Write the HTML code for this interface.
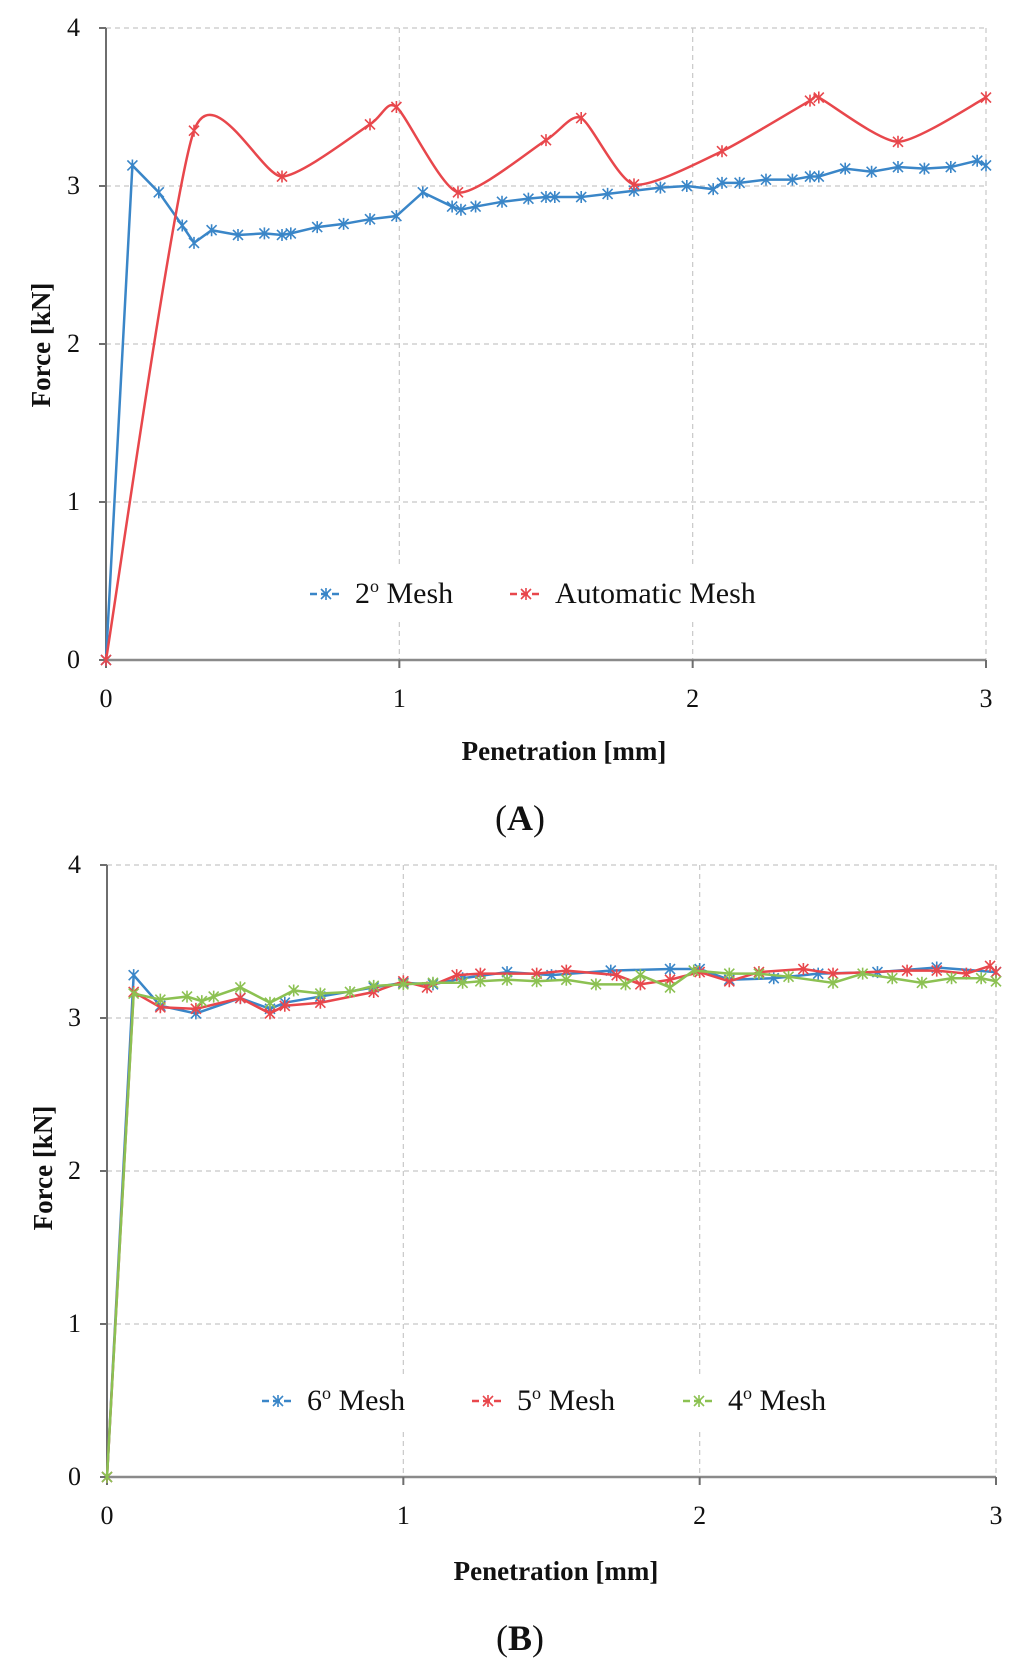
<!DOCTYPE html>
<html><head><meta charset="utf-8"><style>
html,body{margin:0;padding:0;background:#fff;}
svg{display:block;font-family:"Liberation Serif",serif;}
</style></head><body>
<svg id="fig" width="1024" height="1666" viewBox="0 0 1024 1666"></svg>
<script>
// Chart A data
const aBlueX=[0,0.09,0.18,0.26,0.3,0.36,0.45,0.54,0.6,0.63,0.72,0.81,0.9,0.99,1.08,1.18,1.21,1.26,1.35,1.44,1.5,1.53,1.62,1.71,1.8,1.89,1.98,2.07,2.1,2.16,2.25,2.34,2.4,2.43,2.52,2.61,2.7,2.79,2.88,2.97,3.0];
const aBlueY=[0,3.13,2.96,2.75,2.64,2.72,2.69,2.7,2.69,2.7,2.74,2.76,2.79,2.81,2.96,2.87,2.85,2.87,2.9,2.92,2.93,2.93,2.93,2.95,2.97,2.99,3.0,2.98,3.02,3.02,3.04,3.04,3.06,3.06,3.11,3.09,3.12,3.11,3.12,3.16,3.13];
const aRedX=[0,0.3,0.6,0.9,0.99,1.2,1.5,1.62,1.8,2.1,2.4,2.43,2.7,3.0];
const aRedY=[0,3.35,3.06,3.39,3.5,2.96,3.29,3.43,3.01,3.22,3.54,3.56,3.28,3.56];
// Chart B data
const b6X=[0,0.09,0.18,0.3,0.45,0.55,0.6,0.72,0.9,1.0,1.1,1.2,1.35,1.5,1.7,1.9,2.0,2.1,2.25,2.4,2.6,2.8,3.0];
const b6Y=[0,3.28,3.08,3.03,3.13,3.06,3.1,3.14,3.2,3.23,3.22,3.26,3.3,3.28,3.31,3.32,3.32,3.25,3.26,3.29,3.3,3.33,3.3];
const b5X=[0,0.09,0.18,0.3,0.45,0.55,0.6,0.72,0.9,1.0,1.08,1.18,1.26,1.45,1.55,1.72,1.8,1.9,2.0,2.1,2.2,2.35,2.45,2.7,2.8,2.9,2.98,3.0];
const b5Y=[0,3.17,3.07,3.06,3.13,3.03,3.08,3.1,3.17,3.24,3.2,3.28,3.29,3.29,3.31,3.28,3.22,3.25,3.3,3.24,3.3,3.32,3.29,3.31,3.31,3.29,3.34,3.3];
const b4X=[0,0.09,0.18,0.27,0.32,0.36,0.45,0.55,0.63,0.72,0.82,0.9,1.0,1.1,1.2,1.26,1.35,1.45,1.55,1.65,1.75,1.8,1.9,1.98,2.1,2.2,2.3,2.45,2.55,2.65,2.75,2.85,2.95,3.0];
const b4Y=[0,3.16,3.12,3.14,3.11,3.14,3.2,3.1,3.18,3.16,3.17,3.21,3.22,3.23,3.23,3.24,3.25,3.24,3.25,3.22,3.22,3.28,3.2,3.31,3.29,3.29,3.27,3.23,3.29,3.26,3.23,3.26,3.26,3.24];
const xTicks=[0,1,2,3];
const yTicks=[0,1,2,3,4];

const NS="http://www.w3.org/2000/svg";
const svg=document.getElementById('fig');
function mk(tag,attrs,parent,text){const e=document.createElementNS(NS,tag);for(const k in attrs)e.setAttribute(k,attrs[k]);if(text!==undefined)e.textContent=text;(parent||svg).appendChild(e);return e;}

function chart(cfg){
  const g=mk('g',{});
  
  
  const sx=v=>cfg.x0+(cfg.x1-cfg.x0)*v/3;
  const sy=v=>cfg.y0-(cfg.y0-cfg.y1)*v/4;
  yTicks.forEach(t=>{if(t>0){const l=mk('line',{x1:cfg.x0,x2:cfg.x1,y1:sy(t),y2:sy(t),stroke:'#c8c8c8','stroke-width':1.2,'stroke-dasharray':'5,4'},g);}});
  xTicks.forEach(t=>{if(t>0){const l=mk('line',{x1:sx(t),x2:sx(t),y1:cfg.y1,y2:cfg.y0,stroke:'#c8c8c8','stroke-width':1.2,'stroke-dasharray':'5,4'},g);}});
  const ya=mk('line',{x1:cfg.x0,x2:cfg.x0,y1:cfg.y1,y2:cfg.y0,stroke:'#6e6e6e','stroke-width':2},g);
  
  const xa=mk('line',{x1:cfg.x0,x2:cfg.x1,y1:cfg.y0,y2:cfg.y0,stroke:'#8a8a8a','stroke-width':2.5},g);
  
  yTicks.forEach(t=>{
    mk('line',{x1:cfg.x0-7,x2:cfg.x0,y1:sy(t),y2:sy(t),stroke:'#6e6e6e','stroke-width':2},g);
    const tx=mk('text',{x:cfg.x0-26,y:sy(t)+8,'text-anchor':'end','font-size':26,fill:'#111'},g,String(t));
    
  });
  xTicks.forEach(t=>{
    mk('line',{x1:sx(t),x2:sx(t),y1:cfg.y0,y2:cfg.y0+8,stroke:'#6e6e6e','stroke-width':2},g);
    const tx=mk('text',{x:sx(t),y:cfg.y0+47,'text-anchor':'middle','font-size':26,fill:'#111'},g,String(t));
    
  });
  cfg.series.forEach(s=>{
    const pts=s.x.map((v,i)=>[sx(v),sy(s.y[i])]);
    let d='M'+pts[0][0]+','+pts[0][1];
    if(s.smooth){
      const k=9;
      for(let i=0;i<pts.length-1;i++){
        const p0=pts[Math.max(0,i-1)],p1=pts[i],p2=pts[i+1],p3=pts[Math.min(pts.length-1,i+2)];
        const c1=[p1[0]+(p2[0]-p0[0])/k,p1[1]+(p2[1]-p0[1])/k];
        const c2=[p2[0]-(p3[0]-p1[0])/k,p2[1]-(p3[1]-p1[1])/k];
        d+=' C'+c1[0]+','+c1[1]+' '+c2[0]+','+c2[1]+' '+p2[0]+','+p2[1];
      }
    } else pts.slice(1).forEach(p=>d+=' L'+p[0]+','+p[1]);
    const path=mk('path',{d:d,fill:'none',stroke:s.color,'stroke-width':2.5},g);
    
    
    pts.forEach(p=>{
      const m=mk('path',{d:`M${p[0]-5},${p[1]-5}L${p[0]+5},${p[1]+5}M${p[0]+5},${p[1]-5}L${p[0]-5},${p[1]+5}M${p[0]},${p[1]-6}L${p[0]},${p[1]+6}`,stroke:s.color,'stroke-width':1.6,fill:'none'},g);
      
      
    });
  });
  const lg=mk('g',{},g);
  
  
  mk('rect',{x:cfg.legBox[0],y:cfg.legBox[1],width:cfg.legBox[2],height:cfg.legBox[3],fill:'#fff'},lg);
  cfg.series.forEach((s,i)=>{
    const lx=cfg.legX[i],ly=cfg.legY;
    const e=mk('g',{},lg);
    
    
    mk('line',{x1:lx,x2:lx+32,y1:ly-9,y2:ly-9,stroke:s.color,'stroke-width':2.5,'stroke-dasharray':'7,4'},e);
    mk('path',{d:`M${lx+11},${ly-14}L${lx+21},${ly-4}M${lx+21},${ly-14}L${lx+11},${ly-4}M${lx+16},${ly-15}L${lx+16},${ly-3}`,stroke:s.color,'stroke-width':1.6},e);
    const t=mk('text',{x:lx+45,y:ly,'font-size':30,fill:'#111'},e);
    mk('tspan',{},t,s.label[0]);
    mk('tspan',{'font-size':18,dy:-11},t,s.label[1]);
    mk('tspan',{dy:11},t,s.label[2]);
  });
  const xt=mk('text',{x:cfg.xTitle[0],y:cfg.xTitle[1],'text-anchor':'middle','font-size':27,'font-weight':'bold',fill:'#111'},g,'Penetration [mm]');
  
  const yt=mk('text',{x:0,y:0,transform:`translate(${cfg.yTitle[0]},${cfg.yTitle[1]}) rotate(-90)`,'text-anchor':'middle','font-size':27,'font-weight':'bold',fill:'#111'},g,'Force [kN]');
  
  const pl=mk('text',{x:cfg.panel[0],y:cfg.panel[1],'text-anchor':'middle','font-size':36,fill:'#111'},g);
  
  mk('tspan',{},pl,'(');mk('tspan',{'font-weight':'bold'},pl,cfg.panelLetter);mk('tspan',{},pl,')');
}

chart({name:'chart-a',x0:106,x1:986,y0:660,y1:28,
  series:[{key:'mesh-2',x:aBlueX,y:aBlueY,color:'#3a86c8',label:['2','o',' Mesh']},
          {key:'automatic-mesh',x:aRedX,y:aRedY,color:'#e8474c',smooth:true,label:['Automatic Mesh','','']}],
  legX:[310,510],legY:603,legBox:[300,565,480,55],
  xTitle:[564,760],yTitle:[50,345],panel:[520,830],panelLetter:'A'});
chart({name:'chart-b',x0:107,x1:996,y0:1477,y1:865,
  series:[{key:'mesh-6',x:b6X,y:b6Y,color:'#3a86c8',label:['6','o',' Mesh']},
          {key:'mesh-5',x:b5X,y:b5Y,color:'#e8474c',label:['5','o',' Mesh']},
          {key:'mesh-4',x:b4X,y:b4Y,color:'#8cc152',label:['4','o',' Mesh']}],
  legX:[262,472,683],legY:1410,legBox:[255,1375,590,55],
  xTitle:[556,1580],yTitle:[52,1168],panel:[520,1650],panelLetter:'B'});
</script>
</body></html>
